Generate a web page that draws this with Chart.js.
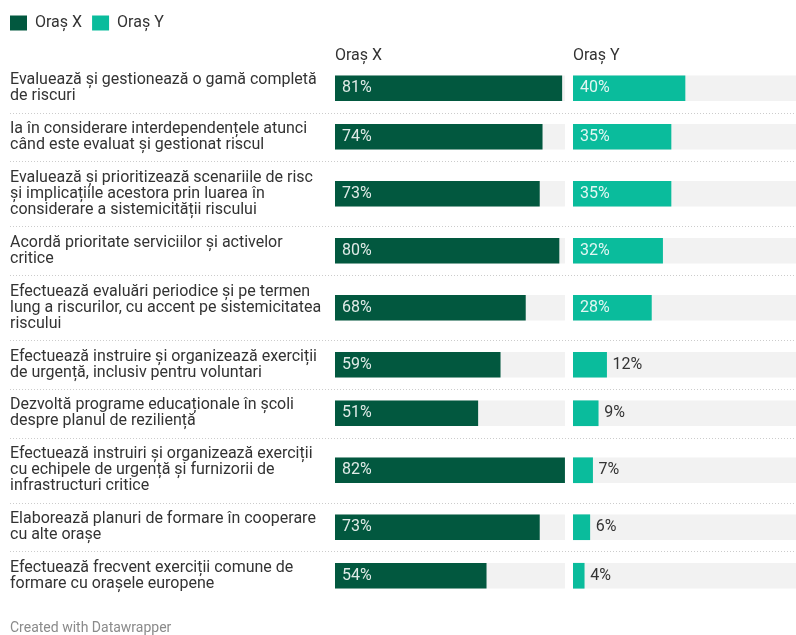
<!DOCTYPE html>
<html lang="ro">
<head>
<meta charset="utf-8">
<script src="https://cdn.jsdelivr.net/npm/chart.js@4"></script>
<style>
	body { margin: 0; overflow: hidden; background: #fff; font-family: Roboto, sans-serif; }
	#wrap { position: relative; width: 796px; height: 635px; overflow: hidden; }
	#nota { position: absolute; left: 10px; top: 619px; font-size: 14px; color: #8a8a8a; }
</style>
</head>
<body>
<div id="wrap">
	<canvas id="grafic" width="811" height="635"></canvas>
	<div id="nota">Created with Datawrapper</div>
</div>
<script>
// Intrebarile, deja impartite pe randuri
var intrebari = [
	['Evaluează și gestionează o gamă completă', 'de riscuri'],
	['Ia în considerare interdependențele atunci', 'când este evaluat și gestionat riscul'],
	['Evaluează și prioritizează scenariile de risc', 'și implicațiile acestora prin luarea în', 'considerare a sistemicității riscului'],
	['Acordă prioritate serviciilor și activelor', 'critice'],
	['Efectuează evaluări periodice și pe termen', 'lung a riscurilor, cu accent pe sistemicitatea', 'riscului'],
	['Efectuează instruire și organizează exerciții', 'de urgență, inclusiv pentru voluntari'],
	['Dezvoltă programe educaționale în școli', 'despre planul de reziliență'],
	['Efectuează instruiri și organizează exerciții', 'cu echipele de urgență și furnizorii de', 'infrastructuri critice'],
	['Elaborează planuri de formare în cooperare', 'cu alte orașe'],
	['Efectuează frecvent exerciții comune de', 'formare cu orașele europene']
];

var orase = ['Oraș X', 'Oraș Y'];
var orasX = [81, 74, 73, 80, 68, 59, 51, 82, 73, 54];
var orasY = [40, 35, 35, 32, 28, 12, 9, 7, 6, 4];

var culori = ['#02583f', '#0abc9c'];

// inaltimea unui rand depinde de cate linii are eticheta
var LINIE = 17;
var SPATIU = 14.6;
var centre = [];
var limite = [];
var pozitie = 0;
intrebari.forEach(function(r) {
	var h = r.length * LINIE + SPATIU;
	centre.push(pozitie + h / 2);
	pozitie += h;
	limite.push(pozitie);
});
var total = pozitie;
limite.pop();

// fundalul gri merge pana la cea mai mare valoare, axa putin mai departe (spatiu intre coloane)
var maxim = Math.max.apply(null, orasX.concat(orasY));
var capatScala = 85;

function puncte(valori) {
	return valori.map(function(v, i) {
		return { x: v, y: centre[i] };
	});
}
var fundal = intrebari.map(function() { return maxim; });

// linii punctate intre randuri
var separatoare = {
	id: 'separatoare',
	beforeDatasetsDraw: function(chart) {
		var ctx = chart.ctx;
		var y = chart.scales.y;
		ctx.save();
		ctx.strokeStyle = '#cccccc';
		ctx.lineWidth = 1;
		ctx.setLineDash([1, 2]);
		limite.forEach(function(l) {
			var py = Math.round(y.getPixelForValue(l)) + 0.5;
			ctx.beginPath();
			ctx.moveTo(10, py);
			ctx.lineTo(chart.width, py);
			ctx.stroke();
		});
		ctx.restore();
	}
};

// procentele: in bara daca incap, altfel dupa ea
var eticheteValori = {
	id: 'eticheteValori',
	afterDatasetsDraw: function(chart) {
		var ctx = chart.ctx;
		ctx.save();
		ctx.font = '16px Roboto';
		ctx.textBaseline = 'middle';
		chart.data.datasets.forEach(function(ds, di) {
			if (ds.fundal) return;
			chart.getDatasetMeta(di).data.forEach(function(bar, i) {
				var text = ds.data[i].x + '%';
				var w = ctx.measureText(text).width;
				if (bar.x - bar.base > w + 14) {
					ctx.fillStyle = 'rgba(255, 255, 255, 0.88)';
					ctx.fillText(text, bar.base + 7, bar.y);
				} else {
					ctx.fillStyle = '#333';
					ctx.fillText(text, bar.x + 6, bar.y);
				}
			});
		});
		ctx.restore();
	}
};

// etichetele intrebarilor incep la 10px, ca legenda
var mutaEtichete = {
	id: 'mutaEtichete',
	afterLayout: function(chart) {
		chart.scales.y.left = 10;
	}
};

function axaOras(nume, greutate) {
	return {
		type: 'linear',
		position: 'top',
		stack: 'coloane',
		stackWeight: 1,
		weight: greutate,
		min: 0,
		max: capatScala,
		ticks: { display: false },
		grid: { display: false, drawTicks: false },
		border: { display: false },
		title: {
			display: true,
			text: nume,
			align: 'start',
			color: '#333',
			font: { size: 16, lineHeight: 1 },
			padding: { top: 7, bottom: 0 }
		}
	};
}

Chart.defaults.font.family = 'Roboto';

new Chart(document.getElementById('grafic').getContext('2d'), {
	type: 'bar',
	data: {
		datasets: [
			{ label: orase[0], data: puncte(orasX), xAxisID: 'xa', backgroundColor: culori[0], order: 1 },
			{ label: orase[1], data: puncte(orasY), xAxisID: 'xb', backgroundColor: culori[1], order: 1 },
			{ label: 'fundal', data: puncte(fundal), xAxisID: 'xa', backgroundColor: '#f2f2f2', order: 2, fundal: true },
			{ label: 'fundal', data: puncte(fundal), xAxisID: 'xb', backgroundColor: '#f2f2f2', order: 2, fundal: true }
		]
	},
	options: {
		indexAxis: 'y',
		responsive: false,
		animation: false,
		layout: { padding: { top: 5, left: 0, right: 0, bottom: 35 } },
		datasets: {
			bar: { barThickness: 25, grouped: false, borderWidth: 0 }
		},
		scales: {
			xa: axaOras(orase[0], 1),
			xb: axaOras(orase[1], 0),
			y: {
				type: 'linear',
				min: 0,
				max: total,
				reverse: true,
				offset: false,
				afterBuildTicks: function(s) {
					s.ticks = centre.map(function(c) { return { value: c }; });
				},
				afterFit: function(s) {
					s.width = 335;
				},
				ticks: {
					autoSkip: false,
					crossAlign: 'far',
					color: '#333',
					font: { size: 16, lineHeight: 1 },
					callback: function(v, i) {
						return intrebari[i];
					}
				},
				grid: { display: false, drawTicks: false },
				border: { display: false }
			}
		},
		plugins: {
			legend: {
				position: 'top',
				align: 'start',
				labels: {
					boxWidth: 17,
					boxHeight: 15,
					padding: 10,
					color: '#333',
					font: { size: 16 },
					filter: function(item, data) {
						return !data.datasets[item.datasetIndex].fundal;
					}
				}
			},
			tooltip: { enabled: false }
		}
	},
	plugins: [separatoare, eticheteValori, mutaEtichete]
});
</script>
</body>
</html>
